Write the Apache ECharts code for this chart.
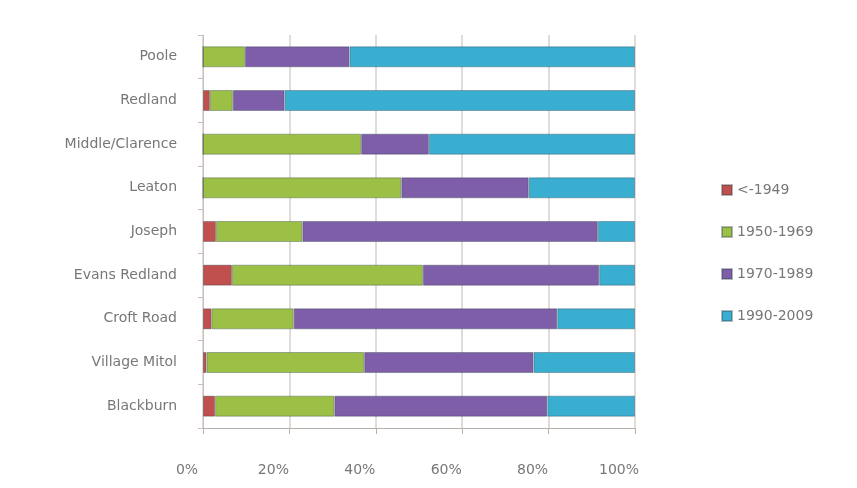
<!DOCTYPE html>
<html>
<head>
<meta charset="utf-8">
<script src="https://cdn.jsdelivr.net/npm/echarts@6/dist/echarts.min.js"></script>
<style>html,body{margin:0;padding:0;background:#fff;}#c{width:857px;height:488px;}</style>
</head>
<body>
<div id="c"></div>
<script>
// categories listed bottom to top
const categories = ["Blackburn","Village Mitol","Croft Road","Evans Redland","Joseph","Leaton","Middle/Clarence","Redland","Poole"];
const seriesNames = ["<-1949","1950-1969","1970-1989","1990-2009"];
const before1949 = [2.8, 0.8, 2, 6.7, 3, 0, 0, 1.6, 0];
const y1950to1969 = [27.6, 36.5, 19, 44.2, 20, 45.9, 36.6, 5.3, 9.7];
const y1970to1989 = [49.3, 39.2, 61, 40.8, 68.4, 29.5, 15.7, 12, 24.2];
const y1990to2009 = [20.3, 23.5, 18, 8.3, 8.6, 24.6, 47.7, 81.1, 66.1];
const xTicks = ["0%","20%","40%","60%","80%","100%"];
const colors = ["#c0504d","#9cbf45","#7e5ea8","#3aaed0"];

const values = [before1949, y1950to1969, y1970to1989, y1990to2009];
const chart = echarts.init(document.getElementById('c'));
chart.setOption({
  animation: false,
  backgroundColor: '#fff',
  textStyle: {fontFamily: 'DejaVu Sans'},
  grid: {left: 203, right: 222, top: 35, bottom: 60},
  legend: {
    orient: 'vertical', left: 716, top: 178, itemGap: 28,
    itemWidth: 10, itemHeight: 10, icon: 'rect',
    textStyle: {color: '#777', fontSize: 14, fontFamily: 'DejaVu Sans'},
    data: seriesNames
  },
  xAxis: {
    type: 'value', min: 0, max: 100, interval: 20,
    axisLine: {show: true, lineStyle: {color: '#b8b0aa'}},
    axisTick: {show: true, length: 6, lineStyle: {color: '#b8b0aa'}},
    splitLine: {show: true, lineStyle: {color: '#d8d0cc', width: 1.5}},
    axisLabel: {
      color: '#777', fontSize: 14, margin: 35, padding: [0, 32, 0, 0],
      formatter: function (v) { return xTicks[Math.round(v / 20)]; }
    }
  },
  yAxis: {
    type: 'category', data: categories,
    axisLine: {show: true, lineStyle: {color: '#c8c0bb'}},
    axisTick: {show: true, alignWithLabel: false, lineStyle: {color: '#c8c0bb'}},
    axisLabel: {color: '#777', fontSize: 14, margin: 26}
  },
  series: seriesNames.map(function (n, i) {
    return {
      name: n, type: 'bar', stack: 'total', data: values[i],
      barWidth: 21,
      itemStyle: {color: colors[i], borderColor: 'rgba(40,60,70,0.35)', borderWidth: 1}
    };
  })
});
</script>
</body>
</html>
